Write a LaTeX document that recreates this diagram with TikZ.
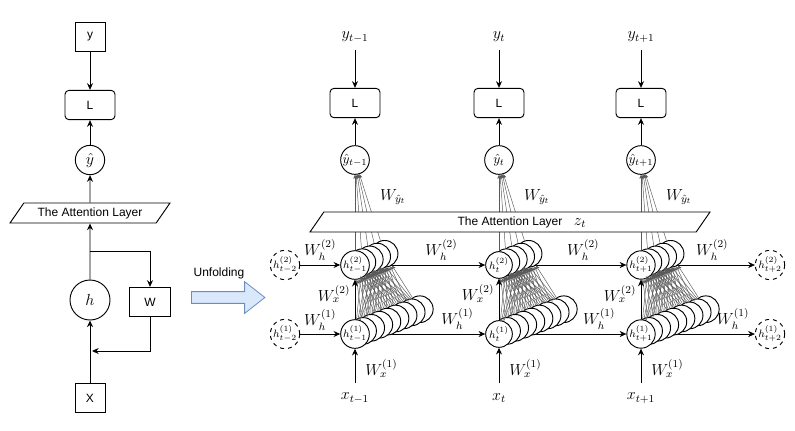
\documentclass[tikz,border=0pt]{standalone}
\usepackage{amsmath,amssymb}
\usepackage{fontspec}
\setsansfont{Liberation Sans}
\usepackage{tikz}
\usetikzlibrary{positioning,arrows.meta,shapes.geometric,shapes.arrows}
\pgfdeclarelayer{bg}
\pgfsetlayers{bg,main}
\definecolor{foldfill}{HTML}{DAE8FC}
\definecolor{foldline}{HTML}{6C8EBF}

\begin{document}
\begin{tikzpicture}[x=0.75pt,y=-0.75pt,->,>={Stealth[length=5pt,width=4.5pt]},line width=0.7pt,on grid,
   every node/.append style={font=\large},
   box/.style={draw,font=\sffamily\small,minimum width=22.5pt,minimum height=22pt,inner sep=1pt},
   loss/.style={box,rounded corners=3pt,minimum width=37.5pt},
   unit/.style={draw,circle,fill=white,minimum size=20pt,inner sep=0pt,font=\footnotesize},
   ghost/.style={unit,dashed,minimum size=22pt},
   attn/.style={draw,fill=white,trapezium,trapezium left angle=45,trapezium right angle=135,
     trapezium stretches body,minimum height=15pt,inner sep=1pt,font=\sffamily\small},
   link/.style={line width=0.35pt,black!65,-{Stealth[length=3pt,width=2.6pt]}}]
 \useasboundingbox (0,0) rectangle (795,430);
 \node[unit,minimum size=30pt,font=\large] (h) at (90,300) {$h$};
 \node[attn,minimum width=120pt] (A) [above=65.25pt of h] {The Attention Layer};
 \node[unit,minimum size=22pt,font=\large] (Y) [above=39.75pt of A] {$\hat{y}$};
 \node[loss] (L) [above=41.25pt of Y] {L};
 \node[box] (y) [above=51pt of L] {y};
 \node[box,minimum width=30.75pt] (W) [below right=1.5pt and 45pt of h] {W};
 \node[box] (X) [below=73.5pt of h] {X};
 \coordinate (br) at (90,251);
 \coordinate (mg) at (92,351);
 \draw (y) -- (L);
 \draw (Y) -- (L);
 \draw (A) -- (Y);
 \draw (h) -- (A);
 \draw (br) -| (W);
 \draw (W) |- (mg);
 \draw (X) -- (h);
 \node[single arrow,draw=foldline,fill=foldfill,line width=0.6pt,minimum height=55pt,inner xsep=0pt,inner ysep=4.1pt,
   single arrow head extend=7.5pt,single arrow tip angle=76] (U) at (224.5,297.5) {};
 \node[font=\sffamily\small] (uf) at (219,273) {Unfolding};
 \foreach \c/\x/\t in {a/355/{t-1},b/499/t,c/641/{t+1}} {
   \node (y\c) at (\x,37) {$y_{\t}$};
   \node[loss] (L\c) at (\x,103) {L};
   \node[unit,minimum size=21.5pt,font=\normalsize] (Y\c) at (\x,160) {$\hat{y}_{\t}$};
   \foreach \i in {8,...,1}
     \node[unit] (p\c\i) at ({\x+8.1*\i},{334-3.1*\i}) {};
   \node[unit] (p\c0) at (\x,334) {$h^{(1)}_{\t}$};
   \foreach \j in {4,...,1}
     \node[unit] (q\c\j) at ({\x+7.4*\j},{265-2.8*\j}) {};
   \node[unit] (q\c0) at (\x,265) {$h^{(2)}_{\t}$};
   \node (x\c) at (\x,398) {$x_{\t}$};
   \foreach \i in {0,...,8}
     \foreach \j in {0,...,4}
       \draw[link] (p\c\i) -- (q\c\j);
   \foreach \j in {0,...,4}
     \draw[link] (q\c\j) -- (Y\c);
   \draw[shorten <=2pt] (y\c) -- (L\c);
   \draw (Y\c) -- (L\c);
   \draw (p\c0) -- (q\c0) node[pos=.64,left] {$W_x^{(2)}$};
   \draw[shorten <=4pt] (x\c) -- (p\c0) node[midway,right=4pt] {$W_x^{(1)}$};
   \node (w\c) at (\x+38,197) {$W_{\hat{y}_t}$};
 }
 \node[attn,minimum width=300pt] (B) at (510,222) {The Attention Layer};
 \node (z) at (580,223) {$z_t$};
 \node[ghost] (ga2) at (285,265) {$h^{(2)}_{t-2}$};
 \node[ghost] (ga1) at (285,334) {$h^{(1)}_{t-2}$};
 \node[ghost] (gd2) at (770,265) {$h^{(2)}_{t+2}$};
 \node[ghost] (gd1) at (770,334) {$h^{(1)}_{t+2}$};
 \draw (ga2) -- (qa0) node[midway,above] {$W_h^{(2)}$};
 \draw (ga1) -- (pa0) node[midway,above=-1pt] {$W_h^{(1)}$};
 \begin{pgfonlayer}{bg}
 \draw (qa0) -- (qb0) node[pos=.62,above] {$W_h^{(2)}$};
 \draw (qb0) -- (qc0) node[pos=.62,above] {$W_h^{(2)}$};
 \draw (qc0) -- (gd2) node[pos=.57,above] {$W_h^{(2)}$};
 \draw (pa0) -- (pb0) node[pos=.76,above] {$W_h^{(1)}$};
 \draw (pb0) -- (pc0) node[pos=.76,above] {$W_h^{(1)}$};
 \draw (pc0) -- (gd1) node[pos=.78,above] {$W_h^{(1)}$};
 \end{pgfonlayer}
\end{tikzpicture}
\end{document}
